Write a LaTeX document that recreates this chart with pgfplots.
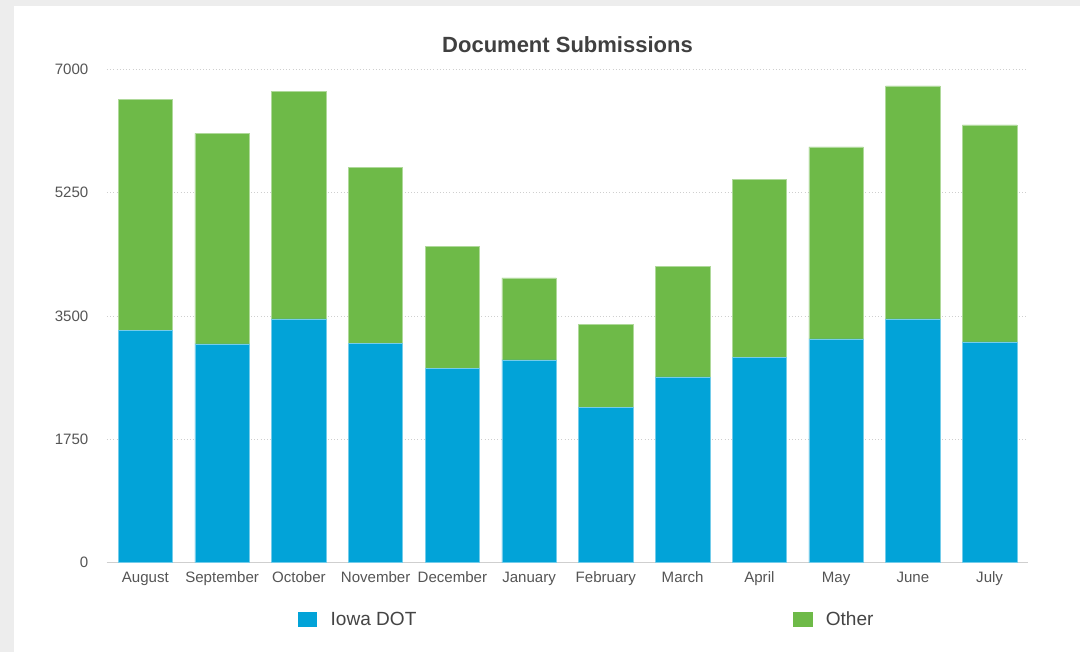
\documentclass[border=0pt]{standalone}
\usepackage{pgfplots}
\pgfplotsset{compat=1.18}
\usepackage{pgfplotstable}
\usepackage{fontspec}
\setmainfont{Liberation Sans}
\definecolor{iowablue}{HTML}{02A3D8}
\definecolor{othergreen}{HTML}{6EBA48}
\definecolor{ticktext}{HTML}{555555}
\definecolor{titletext}{HTML}{404040}
\definecolor{gridc}{HTML}{CFCFCF}
\definecolor{framec}{HTML}{EDEDED}

\pgfplotstableread{
idx iowa other
0 3292 3278
1 3103 2990
2 3458 3231
3 3113 2498
4 2758 1732
5 2876 1164
6 2205 1178
7 2635 1571
8 2909 2526
9 3174 2725
10 3458 3306
11 3132 3079
}\datatable

\begin{document}
\begin{tikzpicture}
\useasboundingbox (-80.25pt,-67pt) rectangle (729.75pt,422pt);
\fill[framec] (-80.25pt,-67pt) rectangle (729.75pt,422pt);
\fill[white] (-69.75pt,-67pt) rectangle (729.75pt,417.5pt);
\begin{axis}[
  at={(0pt,0pt)}, anchor=south west,
  scale only axis,
  width=690.75pt, height=370pt,
  xmin=-0.5, xmax=11.5,
  ymin=0, ymax=7000,
  ybar stacked,
  bar width=40.8pt,
  axis line style={draw=none},
  tick style={draw=none},
  major tick length=0pt,
  xtick=data,
  xticklabels={August,September,October,November,December,January,February,March,April,May,June,July},
  ytick={0,1750,3500,5250,7000},
  yticklabels={0,1750,3500,5250,7000},
  ymajorgrids,
  major grid style={gridc, dotted, line width=0.6pt},
  extra y ticks={0},
  extra y tick labels={},
  extra y tick style={grid=major, major grid style={gridc, solid, line width=1pt}},
  /pgf/number format/assume math mode=true,
  xticklabel style={font=\fontsize{11.3pt}{13pt}\selectfont, text=ticktext, text height=0.72em, text depth=0.22em, yshift=-4pt},
  yticklabel style={font=\fontsize{11.3pt}{13pt}\selectfont, text=ticktext, xshift=-10.5pt},
  title={Document Submissions},
  title style={at={(axis description cs:0.5,1.033)}, anchor=center, font=\fontsize{16.5pt}{19pt}\selectfont\bfseries, text=titletext},
  legend columns=2,
  legend style={at={(axis description cs:0.2074,-0.1151)}, anchor=west, draw=none, fill=none, inner sep=0pt, outer sep=0pt,
    font=\fontsize{14.3pt}{17pt}\selectfont, text=ticktext!80!black,
    /tikz/every even column/.append style={column sep=280.5pt}},
  legend image code/.code={\fill[#1, draw=none] (0pt,-5.8pt) rectangle (14.5pt,5.8pt); \path[draw=none, fill=none] (0pt,0pt) -- (22.5pt,0pt);},
]
\addplot[fill=iowablue, draw=iowablue!55!white, line width=0.5pt] table[x=idx, y=iowa] {\datatable};
\addlegendentry{Iowa DOT}
\addplot[fill=othergreen, draw=othergreen!55!white, line width=0.5pt] table[x=idx, y=other] {\datatable};
\addlegendentry{Other}
\end{axis}
\end{tikzpicture}
\end{document}
